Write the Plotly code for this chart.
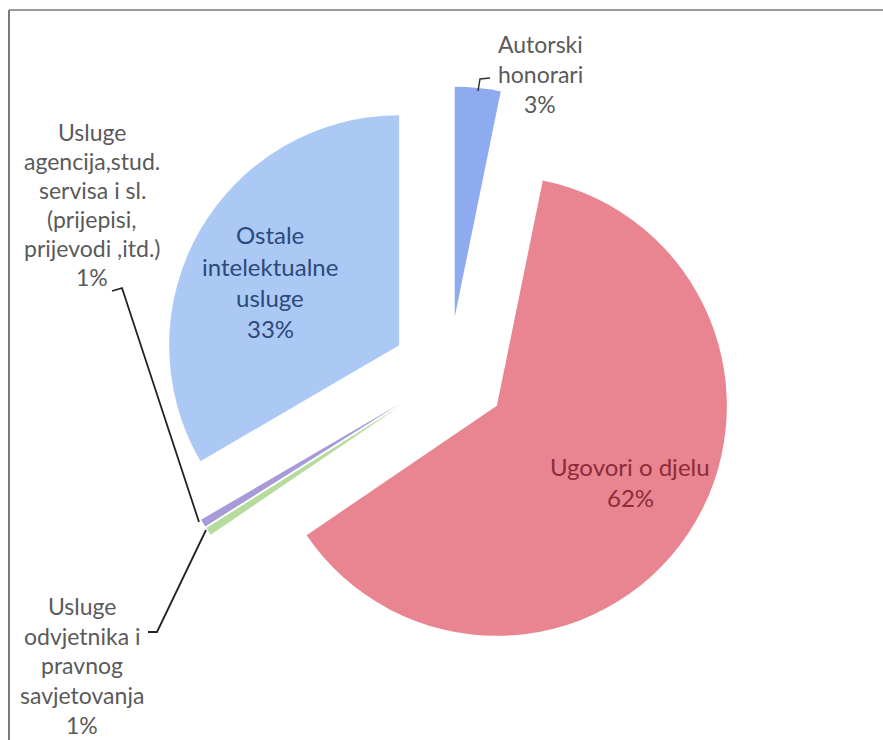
import plotly.graph_objects as go

W, H = 883, 740

labels = ["Autorski honorari", "Ugovori o djelu", "Usluge odvjetnika i pravnog savjetovanja",
          "Usluge agencija, stud. servisa i sl. (prijepisi, prijevodi, itd.)", "Ostale intelektualne usluge"]
values = [3.2, 62.3, 0.55, 0.55, 33.4]
colors = ["#8eaaf0", "#e98590", "#b5dc9c", "#a79ad6", "#abc9f4"]

# label text lines as shown on the chart
label_lines = [
    ["Autorski", "honorari"],
    ["Ugovori o djelu"],
    ["Usluge", "odvjetnika i", "pravnog", "savjetovanja"],
    ["Usluge", "agencija,stud.", "servisa i sl.", "(prijepisi,", "prijevodi ,itd.)"],
    ["Ostale", "intelektualne", "usluge"],
]
total = sum(values)
pct = [f"{int(v / total * 100 + 0.5)}%" for v in values]

FONT = "Lato"

# pie geometry (pixels): centre and domain half-size
cx, cy, half = 449, 374, 287.5
dom_x = [(cx - half) / W, (cx + half) / W]
dom_y = [1 - (cy + half) / H, 1 - (cy - half) / H]

fig = go.Figure(go.Pie(
    labels=labels, values=values, sort=False, direction="clockwise", rotation=0,
    marker=dict(colors=colors, line=dict(width=0)),
    pull=[0.25] * len(values), textinfo="none", hoverinfo="label+percent",
    domain=dict(x=dom_x, y=dom_y), showlegend=False,
))

def px(x):
    return x / W

def py(y):
    return 1 - y / H

annotations = []

def block(lines, x, y0, step, color, fs):
    for i, t in enumerate(lines):
        annotations.append(dict(x=px(x), y=py(y0 + i * step), xref="paper", yref="paper",
                                text=t, showarrow=False, xanchor="center", yanchor="middle",
                                font=dict(family=FONT, size=fs, color=color)))

grey = "#5a5a5a"
block(label_lines[0] + [pct[0]], 540, 44, 30, grey, 23)
block(label_lines[1] + [pct[1]], 630, 466, 31, "#8c2c38", 24)
block(label_lines[2] + [pct[2]], 82, 606, 29.7, grey, 23)
block(label_lines[3] + [pct[3]], 92, 132, 29, grey, 23)
block(label_lines[4] + [pct[4]], 270, 235, 31, "#2c4a7a", 24)

def path(points):
    d = "M " + " L ".join(f"{px(a)} {py(b)}" for a, b in points)
    return d

shapes = [
    # chart frame (top and left edges)
    dict(type="line", xref="paper", yref="paper", x0=px(9), y0=py(10), x1=px(883), y1=py(10),
         line=dict(color="#9a9a9a", width=2)),
    dict(type="line", xref="paper", yref="paper", x0=px(9), y0=py(10), x1=px(9), y1=py(740),
         line=dict(color="#7a7a7a", width=2)),
    # leader lines
    dict(type="path", xref="paper", yref="paper", path=path([(478, 91), (480, 79), (490, 78)]),
         line=dict(color="#333333", width=1.5)),
    dict(type="path", xref="paper", yref="paper", path=path([(112, 291), (122, 288), (199, 522)]),
         line=dict(color="#222222", width=1.8)),
    dict(type="path", xref="paper", yref="paper", path=path([(148, 632), (157, 632), (206, 530)]),
         line=dict(color="#222222", width=1.8)),
]

fig.update_layout(
    width=W, height=H, margin=dict(l=0, r=0, t=0, b=0),
    paper_bgcolor="white", plot_bgcolor="white",
    annotations=annotations, shapes=shapes,
)

fig.write_html("out.html", config={"displayModeBar": False},
               post_script="document.body.style.margin='0';document.body.style.overflow='hidden';")
